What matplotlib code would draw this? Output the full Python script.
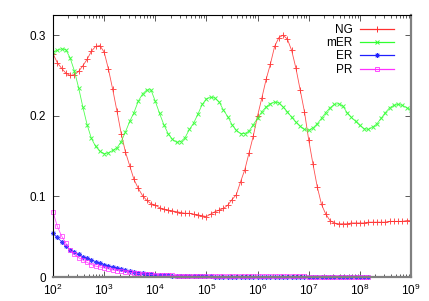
import numpy as np
import matplotlib
matplotlib.use("Agg")
import matplotlib.pyplot as plt
from matplotlib.ticker import FixedLocator, LogLocator, NullFormatter

plt.rcParams['font.family'] = ['Liberation Sans', 'DejaVu Sans']
plt.rcParams['mathtext.fontset'] = 'custom'
plt.rcParams['mathtext.rm'] = 'Liberation Sans'
plt.rcParams['mathtext.it'] = 'Liberation Sans'

# sampling grid: 12 points per decade, 10^2 .. 10^9
x_all = np.logspace(2, 9, 85)

ng = [0.277, 0.266, 0.259, 0.253, 0.250, 0.251, 0.255, 0.262, 0.270, 0.280,
      0.286, 0.287, 0.279, 0.258, 0.233, 0.206, 0.178, 0.155, 0.138, 0.121,
      0.110, 0.101, 0.095, 0.091, 0.089, 0.086, 0.084, 0.083, 0.082, 0.081,
      0.080, 0.079, 0.079, 0.078, 0.077, 0.076, 0.075, 0.078, 0.081, 0.083,
      0.085, 0.089, 0.096, 0.102, 0.118, 0.133, 0.154, 0.175, 0.200, 0.222,
      0.245, 0.264, 0.286, 0.297, 0.300, 0.295, 0.281, 0.259, 0.232, 0.205,
      0.170, 0.140, 0.112, 0.090, 0.078, 0.070, 0.067, 0.066, 0.066, 0.066,
      0.067, 0.067, 0.067, 0.067, 0.068, 0.068, 0.068, 0.068, 0.068, 0.069,
      0.069, 0.069, 0.069, 0.070, 0.070]

mer = [0.279, 0.281, 0.283, 0.282, 0.272, 0.256, 0.235, 0.211, 0.189, 0.172,
       0.162, 0.156, 0.153, 0.154, 0.157, 0.160, 0.168, 0.180, 0.193, 0.204,
       0.218, 0.227, 0.232, 0.232, 0.218, 0.203, 0.189, 0.178, 0.171, 0.167,
       0.168, 0.173, 0.183, 0.191, 0.202, 0.214, 0.221, 0.223, 0.222, 0.217,
       0.207, 0.199, 0.189, 0.182, 0.178, 0.178, 0.181, 0.189, 0.197, 0.205,
       0.211, 0.215, 0.217, 0.216, 0.211, 0.205, 0.198, 0.192, 0.187, 0.183,
       0.182, 0.185, 0.190, 0.197, 0.204, 0.210, 0.214, 0.215, 0.212, 0.204,
       0.198, 0.193, 0.188, 0.184, 0.183, 0.186, 0.190, 0.197, 0.204, 0.210,
       0.213, 0.214, 0.213, 0.210, 0.207]

er = [0.054, 0.049, 0.044, 0.038, 0.034, 0.031, 0.028, 0.025, 0.023, 0.021,
      0.019, 0.017, 0.0155, 0.014, 0.0125, 0.0107, 0.0095, 0.0083, 0.0072, 0.0062,
      0.0053, 0.0046, 0.0040, 0.0034, 0.0029, 0.0025, 0.0022, 0.0019, 0.0017, 0.0015,
      0.0013, 0.0012, 0.0011, 0.0010, 0.0009, 0.0008, 0.0007, 0.0007, 0.0006, 0.0006,
      0.0005, 0.0005, 0.0005, 0.0004, 0.0004, 0.0004, 0.0004, 0.0003, 0.0003, 0.0003,
      0.0003, 0.0003, 0.0003, 0.0003, 0.0002, 0.0002, 0.0002, 0.0002, 0.0002, 0.0002,
      0.0002, 0.0002, 0.0002, 0.0002, 0.0002, 0.0002, 0.0002, 0.0002, 0.0002, 0.0002,
      0.0002, 0.0002, 0.0002, 0.0002, 0.0002]

pr = [0.081, 0.063, 0.051, 0.042, 0.033, 0.028, 0.024, 0.021, 0.018, 0.0155,
      0.0135, 0.0125, 0.0112, 0.0100, 0.0088, 0.0079, 0.0072, 0.0065, 0.0058, 0.0052,
      0.0046, 0.0041, 0.0036, 0.0032, 0.0028, 0.0025, 0.0023, 0.0021, 0.0019, 0.0018,
      0.0017, 0.0016, 0.0015, 0.0014, 0.0013, 0.0012, 0.0011, 0.0011, 0.0010, 0.0010,
      0.0010, 0.0009, 0.0009, 0.0009, 0.0009, 0.0008, 0.0008, 0.0008, 0.0008, 0.0008,
      0.0008, 0.0007, 0.0007, 0.0007, 0.0007, 0.0007, 0.0007, 0.0007, 0.0007, 0.0007,
      0.0006, 0.0006, 0.0006, 0.0006, 0.0006, 0.0006, 0.0006, 0.0006, 0.0006, 0.0006,
      0.0006, 0.0006, 0.0006, 0.0006, 0.0006]

x_ticks = [1e2, 1e3, 1e4, 1e5, 1e6, 1e7, 1e8, 1e9]
y_ticks = [0, 0.1, 0.2, 0.3]
y_labels = ['0', '0.1', '0.2', '0.3']

fig = plt.figure(figsize=(4.29, 3.01), dpi=100)
ax = fig.add_axes([53 / 429, 24 / 301, 358 / 429, 262 / 301])

lw = 0.6
ax.plot(x_all, ng, color='#ff3030', lw=lw, marker='+', ms=4, mew=0.7,
        alpha=0.85, label='NG')
ax.plot(x_all, mer, color='#30ff30', lw=lw, marker='x', ms=3, mew=0.7,
        alpha=0.85, label='mER')
ax.plot(x_all[:len(er)], er, color='#2020ff', mec='#2020ff', lw=lw,
        marker=(8, 2, 0), ms=3.5, mew=0.6, alpha=0.85, clip_on=False, label='ER')
ax.plot(x_all[:len(pr)], pr, color='#ff30ff', mec='#ff30ff', lw=lw, marker='s',
        ms=3.5, mfc='none', mew=0.6, alpha=0.85, clip_on=False, label='PR')

ax.set_xscale('log')
ax.set_xlim(1e2, 1e9)
ax.set_ylim(0, 0.325)

ax.yaxis.set_major_locator(FixedLocator(y_ticks))
ax.set_yticklabels(y_labels)
ax.xaxis.set_major_locator(FixedLocator(x_ticks))
ax.set_xticklabels([f'$10^{{{int(np.log10(v))}}}$' for v in x_ticks])
ax.xaxis.set_minor_locator(LogLocator(base=10, subs=np.arange(2, 10), numticks=20))
ax.xaxis.set_minor_formatter(NullFormatter())

ax.tick_params(which='both', direction='in', top=True, right=True,
               labelsize=8.5, width=0.6, color='#404040')
ax.tick_params(which='major', length=4)
ax.tick_params(which='minor', length=2)
ax.tick_params(axis='x', pad=4)
ax.tick_params(axis='y', pad=5)

for side in ['left', 'top']:
    ax.spines[side].set_color('black')
    ax.spines[side].set_linewidth(0.8)
for side in ['right', 'bottom']:
    ax.spines[side].set_color('#808080')
    ax.spines[side].set_linewidth(1.6)

leg = ax.legend(loc='upper right', bbox_to_anchor=(0.965, 0.985), frameon=False,
                markerfirst=False, fontsize=8.5, handlelength=2.9,
                labelspacing=0.12, handletextpad=0.6, borderaxespad=0.0)
for line in leg.get_lines():
    line.set_linewidth(0.9)
    line.set_alpha(1.0)

fig.savefig('out.png', dpi=100)
